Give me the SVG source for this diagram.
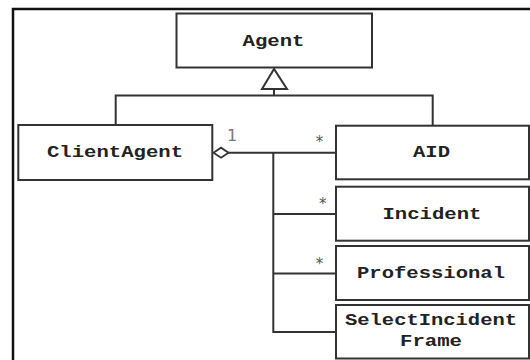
<svg xmlns="http://www.w3.org/2000/svg" width="530" height="360" viewBox="0 0 530 360">
<style>
.box{fill:#fff;stroke:#333;stroke-width:2}
.lbl{font-family:"Liberation Mono","Courier New",monospace;font-weight:bold;font-size:16.5px;fill:#222;text-anchor:middle}
.ln{fill:none;stroke:#333;stroke-width:2}
.mult{font-family:"DejaVu Sans",sans-serif;font-size:15px;fill:#555;text-anchor:middle}
</style>
<rect x="0" y="0" width="530" height="360" fill="#fff"/>
<rect x="13" y="9" width="600" height="400" fill="none" stroke="#111" stroke-width="2.5"/>
<g id="connectors">
<path class="ln" d="M274 89 V95.5 M115.7 125 V95.5 H432.7 V125.7"/>
<polygon points="274,69 262,89 287,89" fill="#fff" stroke="#333" stroke-width="2"/>
<path class="ln" d="M228 152.7 H336 M273.3 152.7 V332 H335 M273.3 214 H335 M273.3 273.5 H335"/>
<polygon points="213.5,152.7 221,147.7 228.5,152.7 221,157.7" fill="#fff" stroke="#333" stroke-width="1.8"/>
<text class="mult" x="232" y="141" style="font-size:16px;fill:#777">1</text>
<text class="mult" x="319.5" y="147">*</text>
<text class="mult" x="322.7" y="209">*</text>
<text class="mult" x="319.5" y="269">*</text>
</g>
<g id="Agent">
<rect class="box" x="176.5" y="13.5" width="195.5" height="54"/>
<text class="lbl" x="273.5" y="45.5" textLength="62" lengthAdjust="spacingAndGlyphs">Agent</text>
</g>
<g id="ClientAgent">
<rect class="box" x="18.3" y="125" width="194" height="55"/>
<text class="lbl" x="115" y="157" textLength="136" lengthAdjust="spacingAndGlyphs">ClientAgent</text>
</g>
<g id="AID">
<rect class="box" x="336" y="125.7" width="193" height="53.6"/>
<text class="lbl" x="431.5" y="157" textLength="37" lengthAdjust="spacingAndGlyphs">AID</text>
</g>
<g id="Incident">
<rect class="box" x="336" y="186.7" width="193" height="54"/>
<text class="lbl" x="432" y="218.5" textLength="99" lengthAdjust="spacingAndGlyphs">Incident</text>
</g>
<g id="Professional">
<rect class="box" x="336" y="246" width="193" height="54"/>
<text class="lbl" x="431" y="277.5" textLength="148" lengthAdjust="spacingAndGlyphs">Professional</text>
</g>
<g id="SelectIncidentFrame">
<rect class="box" x="336" y="305" width="193" height="53.5"/>
<text class="lbl" x="431" y="325" textLength="172" lengthAdjust="spacingAndGlyphs">SelectIncident</text>
<text class="lbl" x="431" y="346" textLength="62" lengthAdjust="spacingAndGlyphs">Frame</text>
</g>
</svg>
